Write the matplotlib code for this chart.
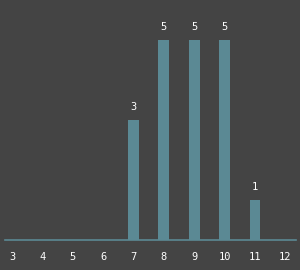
import matplotlib
matplotlib.use("Agg")
import matplotlib.pyplot as plt

categories = [3, 4, 5, 6, 7, 8, 9, 10, 11, 12]
counts = [0, 0, 0, 0, 3, 5, 5, 5, 1, 0]

bg = "#444444"
bar_color = "#5b8994"

fig = plt.figure(figsize=(3.0, 2.7), dpi=100, facecolor=bg)
ax = fig.add_axes([5 / 300, 30 / 270, 291 / 300, 240 / 270], facecolor=bg)

ax.bar(categories, counts, width=0.36, color=bar_color)
for c, v in zip(categories, counts):
    if v > 0:
        ax.text(c, v + 0.2, str(v), ha="center", va="bottom",
                color="white", fontsize=7.5, family="DejaVu Sans Mono")

ax.set_xlim(2.77, 12.35)
ax.set_ylim(0, 6)
ax.set_xticks(categories)
ax.set_xticklabels([str(c) for c in categories], color="white",
                   fontsize=7.5, family="DejaVu Sans Mono")
ax.tick_params(axis="x", length=0, pad=9)
ax.set_yticks([])
for side in ["top", "right", "left"]:
    ax.spines[side].set_visible(False)
ax.spines["bottom"].set_color(bar_color)
ax.spines["bottom"].set_linewidth(1.2)

fig.savefig("out.png", dpi=100, facecolor=bg)
